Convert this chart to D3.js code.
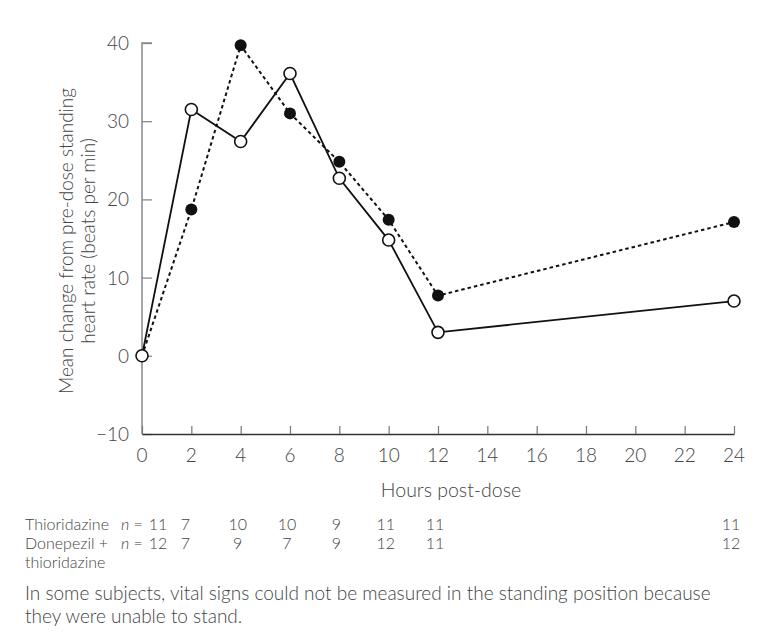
<!DOCTYPE html>
<html>
<head>
<meta charset="utf-8">
<script src="https://cdn.jsdelivr.net/npm/d3@7"></script>
<style>
    body { margin: 0; background: #fff; }
    svg text { font-family: Lato, "Open Sans", sans-serif; font-weight: 300; fill: #444; }
</style>
</head>
<body>
<svg id="chart" width="774" height="636"></svg>
<script>
// hours post-dose
const hours = [0, 2, 4, 6, 8, 10, 12, 24];
// open circles, solid line
const openSeries = [0, 31.5, 27.4, 36.1, 22.7, 14.8, 3.0, 7.0];
// filled circles, dotted line
const filledSeries = [0, 18.7, 39.7, 31.0, 24.8, 17.4, 7.7, 17.1];
const xTicks = [0, 2, 4, 6, 8, 10, 12, 14, 16, 18, 20, 22, 24];
const yTicks = [-10, 0, 10, 20, 30, 40];
// n per time point
const nThioridazine = [11, 7, 10, 10, 9, 11, 11, 11];
const nCombined = [12, 7, 9, 7, 9, 12, 11, 12];

const svg = d3.select('#chart');
const x = d3.scaleLinear().domain([0, 24]).range([142, 734]);
const y = d3.scaleLinear().domain([-10, 40]).range([434, 43]);

// y axis
const yAxis = svg.append('g')
    .attr('transform', `translate(${x(0)},0)`)
    .call(d3.axisRight(y).tickValues(yTicks).tickSize(10).tickFormat(() => ''));
yAxis.select('.domain').attr('d', `M10,${y(40)}H0V${y(-10)}`).attr('stroke', '#888').attr('stroke-width', 1.5);
yAxis.selectAll('.tick line').attr('stroke', '#888').attr('stroke-width', 1.3);

svg.append('g').selectAll('text')
    .data(yTicks)
    .enter()
    .append('text')
    .attr('x', 129)
    .attr('y', d => y(d) + 7)
    .attr('text-anchor', 'end')
    .attr('font-size', 19)
    .text(d => d < 0 ? '\u2212' + Math.abs(d) : d);

// x axis
const xAxis = svg.append('g')
    .attr('transform', `translate(0,${y(-10)})`)
    .call(d3.axisTop(x).tickValues(xTicks).tickSize(8).tickSizeOuter(0).tickFormat(() => ''));
xAxis.select('.domain').attr('stroke', '#333').attr('stroke-width', 1.6);
xAxis.selectAll('.tick line').attr('stroke', '#777').attr('stroke-width', 1.2);

svg.append('g').selectAll('text')
    .data(xTicks)
    .enter()
    .append('text')
    .attr('x', d => x(d))
    .attr('y', 462)
    .attr('text-anchor', 'middle')
    .attr('font-size', 19)
    .text(d => d);

svg.append('text')
    .attr('x', 451)
    .attr('y', 497)
    .attr('text-anchor', 'middle')
    .attr('font-size', 19.5)
    .text('Hours post-dose');

const yLabel = svg.append('text')
    .attr('transform', 'translate(73,241) rotate(-90)')
    .attr('text-anchor', 'middle')
    .attr('font-size', 19);
yLabel.append('tspan').attr('x', 0).attr('y', 0).text('Mean change from pre-dose standing');
yLabel.append('tspan').attr('x', 0).attr('y', 22).text('heart rate (beats per min)');

// lines
const line = d3.line().x((d, i) => x(hours[i])).y(d => y(d));

svg.append('path')
    .datum(filledSeries)
    .attr('d', line)
    .attr('fill', 'none')
    .attr('stroke', '#111')
    .attr('stroke-width', 2)
    .attr('stroke-dasharray', '3.5,3');

svg.append('path')
    .datum(openSeries)
    .attr('d', line)
    .attr('fill', 'none')
    .attr('stroke', '#111')
    .attr('stroke-width', 1.8);

svg.append('g').selectAll('circle')
    .data(filledSeries)
    .enter()
    .append('circle')
    .attr('cx', (d, i) => x(hours[i]))
    .attr('cy', d => y(d))
    .attr('r', 6)
    .attr('fill', '#111');

svg.append('g').selectAll('circle')
    .data(openSeries)
    .enter()
    .append('circle')
    .attr('cx', (d, i) => x(hours[i]))
    .attr('cy', d => y(d))
    .attr('r', 6)
    .attr('fill', '#fff')
    .attr('stroke', '#111')
    .attr('stroke-width', 1.6);

// n table
const rowY = [530, 549, 568];
const nX = (i) => x(hours[i]) + (i === 0 ? 16 : i === 1 ? -6 : -3);
const table = svg.append('g').attr('font-size', 16);
table.append('text').attr('x', 25).attr('y', rowY[0]).text('Thioridazine');
table.append('text').attr('x', 25).attr('y', rowY[1]).text('Donepezil +');
table.append('text').attr('x', 25).attr('y', rowY[2]).text('thioridazine');

[rowY[0], rowY[1]].forEach(ry => {
    const t = table.append('text').attr('x', 121).attr('y', ry);
    t.append('tspan').attr('font-style', 'italic').text('n');
    t.append('tspan').text(' =');
});

table.append('g').selectAll('text')
    .data(nThioridazine)
    .enter()
    .append('text')
    .attr('x', (d, i) => nX(i))
    .attr('y', rowY[0])
    .attr('text-anchor', 'middle')
    .text(d => d);

table.append('g').selectAll('text')
    .data(nCombined)
    .enter()
    .append('text')
    .attr('x', (d, i) => nX(i))
    .attr('y', rowY[1])
    .attr('text-anchor', 'middle')
    .text(d => d);

// footnote
const note = svg.append('g').attr('font-size', 19);
note.append('text').attr('x', 25).attr('y', 600)
    .text('In some subjects, vital signs could not be measured in the standing position because');
note.append('text').attr('x', 25).attr('y', 623)
    .text('they were unable to stand.');
</script>
</body>
</html>
